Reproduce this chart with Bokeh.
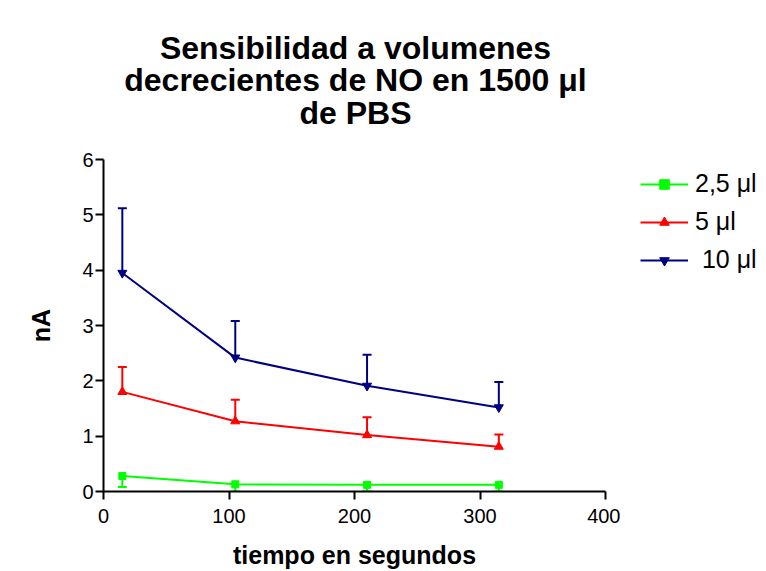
from bokeh.plotting import figure
from bokeh.layouts import column, row
from bokeh.models import Range1d, Whisker, TeeHead, ColumnDataSource, Legend, LegendItem, FixedTicker
from bokeh.core.properties import value
from bokeh.embed import file_html
from bokeh.resources import INLINE

x_time = [15, 105, 210, 315]
names = ["2,5 \u03bcl", "5 \u03bcl", " 10 \u03bcl"]
y_25 = [0.28, 0.13, 0.12, 0.12]
e_25 = [0.20, 0.13, 0.12, 0.12]
y_5 = [1.80, 1.27, 1.02, 0.81]
e_5 = [0.45, 0.39, 0.32, 0.22]
y_10 = [3.95, 2.42, 1.91, 1.52]
e_10 = [1.17, 0.66, 0.56, 0.46]
colors = ["#00ff00", "#ff0000", "#000080"]
markers = ["square", "triangle", "inverted_triangle"]
title_lines = ["Sensibilidad a volumenes", "decrecientes de NO en 1500 \u03bcl", "de PBS"]
x_ticks = [0, 100, 200, 300, 400]
y_ticks = [0, 1, 2, 3, 4, 5, 6]

FONT = "Liberation Sans"
W, H = 766, 571
TITLE_H = 130
PLOT_W = 620

# ---- title strip ----
tf = figure(width=W, height=TITLE_H, output_backend="svg", toolbar_location=None,
            x_range=Range1d(0, W), y_range=Range1d(TITLE_H, 0),
            x_axis_location=None, y_axis_location=None,
            min_border=0, outline_line_color=None)
tf.grid.visible = False
tf.text(x=[355] * 3, y=[47, 79.5, 112], text=title_lines, text_align="center",
        text_baseline="alphabetic", text_font=value(FONT), text_font_style="bold",
        text_font_size="32px", text_color="black")

# ---- main plot ----
p = figure(width=PLOT_W, height=H - TITLE_H, output_backend="svg", toolbar_location=None,
           x_range=Range1d(0, x_ticks[-1]), y_range=Range1d(0, y_ticks[-1]),
           min_border_left=103, min_border_right=PLOT_W - 605, min_border_top=29, min_border_bottom=80)
p.outline_line_color = None
p.grid.visible = False

for ax in (p.xaxis[0], p.yaxis[0]):
    ax.axis_line_width = 2
    ax.major_tick_line_width = 2
    ax.major_tick_in = 0
    ax.major_tick_out = 8
    ax.minor_tick_line_color = None
    ax.major_label_text_font = FONT
    ax.major_label_text_font_size = "20px"
    ax.major_label_text_color = "black"
    ax.axis_label_text_font = FONT
    ax.axis_label_text_font_style = "bold"
    ax.axis_label_text_font_size = "25px"
    ax.axis_label_text_color = "black"

p.xaxis.ticker = FixedTicker(ticks=x_ticks)
p.yaxis.ticker = FixedTicker(ticks=y_ticks)
p.xaxis.axis_label = "tiempo en segundos"
p.yaxis.axis_label = "nA"
p.xaxis.axis_label_standoff = 15
p.yaxis.axis_label_standoff = 24
p.yaxis.major_label_standoff = 2
p.xaxis.major_label_standoff = 9

# ---- legend strip (frame aligned with the plot frame by the row layout) ----
lf = figure(width=W - PLOT_W, height=H - TITLE_H, output_backend="svg", toolbar_location=None,
            x_range=Range1d(-10, -9), y_range=Range1d(-10, -9),
            x_axis_location=None, y_axis_location=None,
            min_border=0, outline_line_color=None)
lf.grid.visible = False

items = []
series = [(y_25, e_25, False), (y_5, e_5, True), (y_10, e_10, True)]
for (ys, es, up), c, m, n in zip(series, colors, markers, names):
    if up:
        lower = ys
        upper = [a + b for a, b in zip(ys, es)]
    else:
        lower = [max(a - b, 0) for a, b in zip(ys, es)]
        upper = ys
    src = ColumnDataSource(dict(x=x_time, y=ys, lo=lower, hi=upper))
    w = Whisker(base="x", lower="lo", upper="hi", source=src, line_color=c, line_width=2,
                upper_head=TeeHead(size=9, line_color=c, line_width=2) if up else None,
                lower_head=None if up else TeeHead(size=9, line_color=c, line_width=2))
    p.add_layout(w)
    msize = 7 if m == "square" else 9
    p.line("x", "y", source=src, line_color=c, line_width=2)
    p.scatter("x", "y", source=src, marker=m, size=msize, fill_color=c, line_color=c)
    l1 = lf.line("x", "y", source=src, line_color=c, line_width=2)
    l2 = lf.scatter("x", "y", source=src, marker=m, size=msize, fill_color=c, line_color=c)
    items.append(LegendItem(label=n, renderers=[l1, l2]))

leg = Legend(items=items, location=(20, 217), glyph_width=48, glyph_height=24, label_height=24,
             label_text_font=FONT, label_text_font_size="25px", label_text_color="black",
             spacing=9, padding=0, margin=0,
             border_line_color=None, background_fill_alpha=0, label_standoff=7)
lf.add_layout(leg, "center")

layout = column(tf, row(p, lf, spacing=0), spacing=0)
open("out.html", "w").write(file_html(layout, INLINE))
